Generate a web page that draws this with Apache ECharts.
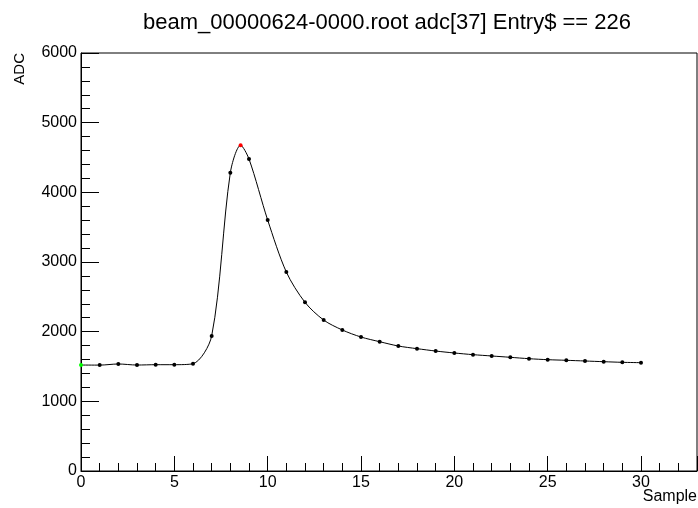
<!DOCTYPE html>
<html>
<head>
<meta charset="utf-8">
<script src="https://cdn.jsdelivr.net/npm/echarts@6/dist/echarts.min.js"></script>
<style>
  html, body { margin: 0; padding: 0; background: #fff; }
  #chart { width: 698px; height: 508px; }
</style>
</head>
<body>
<div id="chart"></div>
<script>
// ADC samples
const samples = [0, 1, 2, 3, 4, 5, 6, 7, 8, 9, 10, 11, 12, 13, 14, 15, 16, 17, 18, 19,
  20, 21, 22, 23, 24, 25, 26, 27, 28, 29, 30]
const adcValues = [1521, 1520, 1536, 1521, 1526, 1526, 1540, 1938, 4282, 4478, 3603, 2856,
  2421, 2167, 2024, 1923, 1856, 1794, 1756, 1722, 1694, 1670, 1651, 1632, 1612, 1598,
  1589, 1579, 1569, 1560, 1555]
// peak found between samples (red marker)
const peakSample = 8.55
const peakAdc = 4675
const xTicks = [0, 5, 10, 15, 20, 25, 30]

const chart = echarts.init(document.getElementById('chart'))

// build the curve, inserting the peak point in order
const lineData = []
samples.forEach((s, i) => {
  if (s > peakSample && lineData.length && lineData[lineData.length - 1].value[0] < peakSample) {
    lineData.push({ value: [peakSample, peakAdc], itemStyle: { color: '#ff0000' } })
  }
  lineData.push({
    value: [s, adcValues[i]],
    itemStyle: { color: i === 0 ? '#00ff00' : '#000000' }
  })
})

const font = 'Liberation Sans, Arial, Helvetica, sans-serif'

const option = {
  animation: false,
  backgroundColor: '#ffffff',
  title: {
    text: 'beam_00000624-0000.root adc[37] Entry$ == 226',
    left: 382,
    top: 7,
    textAlign: 'center',
    textStyle: { fontFamily: font, fontWeight: 'normal', fontSize: 22, color: '#000' }
  },
  graphic: [
    {
      type: 'text',
      left: 12,
      top: 53,
      rotation: Math.PI / 2,
      style: { text: 'ADC', font: '15px ' + font, fill: '#000' }
    },
    {
      type: 'text',
      right: 1,
      top: 489,
      style: { text: 'Sample', font: '16px ' + font, fill: '#000' }
    }
  ],
  grid: {
    left: 81, right: 1, top: 53, bottom: 37,
    outerBoundsMode: 'none',
    containLabel: false,
    show: true, borderColor: '#000', borderWidth: 1, backgroundColor: 'transparent'
  },
  xAxis: [
    {
      type: 'value', min: 0, max: 33, interval: 1, position: 'bottom',
      axisLine: { lineStyle: { color: '#000', width: 1 } },
      axisTick: { inside: true, length: 8, lineStyle: { color: '#000' } },
      axisLabel: {
        fontFamily: font, fontSize: 16, color: '#000', margin: 4,
        showMaxLabel: false,
        formatter: v => (xTicks.indexOf(v) >= 0 ? String(v) : '')
      },
      splitLine: { show: false }
    },
    {
      type: 'value', min: 0, max: 33, interval: 5, position: 'bottom',
      axisLine: { show: false },
      axisTick: { inside: true, length: 15, lineStyle: { color: '#000' } },
      axisLabel: { show: false },
      splitLine: { show: false }
    }
  ],
  yAxis: {
    type: 'value', min: 0, max: 6000, interval: 1000,
    axisLine: { show: true, lineStyle: { color: '#000', width: 1 } },
    axisTick: { show: true, inside: true, length: 18, lineStyle: { color: '#000' } },
    minorTick: { show: true, splitNumber: 5, length: 9, lineStyle: { color: '#000' } },
    axisLabel: { fontFamily: font, fontSize: 16, color: '#000', margin: 4, formatter: v => String(v) },
    splitLine: { show: false }
  },
  series: [{
    type: 'line',
    xAxisIndex: 0,
    data: lineData,
    smooth: 0.3,
    symbol: 'circle',
    symbolSize: 4,
    lineStyle: { color: '#000', width: 1 },
    itemStyle: { color: '#000' }
  }]
}

chart.setOption(option)
</script>
</body>
</html>
